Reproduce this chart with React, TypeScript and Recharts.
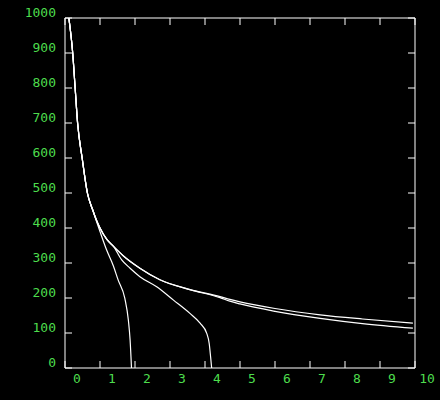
import { Line, LineChart, XAxis, YAxis } from "recharts";

const GREEN = "#4ddc4d";

const xTicks = [0, 1, 2, 3, 4, 5, 6, 7, 8, 9, 10];
const yTicks = [0, 100, 200, 300, 400, 500, 600, 700, 800, 900, 1000];

// shared head of the two long curves
const headX = [0.11, 0.22, 0.29, 0.36, 0.49, 0.64, 0.79, 0.9, 1.0, 1.19, 1.38, 1.67, 2.14, 2.71, 3.57];
const headY = [1000, 900, 800, 700, 600, 500, 452, 422, 400, 368, 348, 320, 285, 252, 224];

const tailAX = [4.43, 4.71, 5, 6, 7.29, 8.5, 9.94];
const tailAY = [204, 196, 189, 170, 152, 140, 128];
const tailBX = [4.43, 4.71, 5, 6, 7.29, 8.5, 9.94];
const tailBY = [201, 191, 183, 162, 142, 127, 114];

const curveCX = [0.79, 1.0, 1.19, 1.38, 1.52, 1.71, 1.81, 1.86, 1.9];
const curveCY = [452, 390, 337, 292, 251, 199, 137, 80, 0];
const curveDX = [1.38, 1.62, 1.86, 2.14, 2.62, 3.1, 3.57, 3.86, 4.05, 4.12, 4.16, 4.19];
const curveDY = [348, 309, 285, 261, 232, 194, 156, 128, 99, 70, 32, 0];

const pts = (xs: number[], ys: number[]) => xs.map((x, i) => ({ x, y: ys[i] }));
const dataA = [...pts(headX, headY), ...pts(tailAX, tailAY)];
const dataB = [...pts(headX, headY), ...pts(tailBX, tailBY)];
const dataC = [...pts(headX.slice(0, 6), headY.slice(0, 6)), ...pts(curveCX, curveCY)];
const dataD = [...pts(headX.slice(0, 10), headY.slice(0, 10)), ...pts(curveDX, curveDY)];

const font = { fontFamily: "DejaVu Sans Mono", fontSize: 13 };

const BottomTick = (p: any) => (
  <g>
    <line x1={p.x} y1={p.y} x2={p.x} y2={p.y - 7} stroke="#fff" />
    <text x={p.x + 12} y={p.y + 10} fill={GREEN} textAnchor="middle" dominantBaseline="central" {...font}>
      {p.payload.value}
    </text>
  </g>
);
const TopTick = (p: any) => <line x1={p.x} y1={p.y} x2={p.x} y2={p.y + 7} stroke="#fff" />;
const LeftTick = (p: any) => (
  <g>
    <line x1={p.x} y1={p.y} x2={p.x + 7} y2={p.y} stroke="#fff" />
    <text x={p.x - 9} y={p.y - 6} fill={GREEN} textAnchor="end" dominantBaseline="central" {...font}>
      {p.payload.value}
    </text>
  </g>
);
const RightTick = (p: any) => <line x1={p.x} y1={p.y} x2={p.x - 7} y2={p.y} stroke="#fff" />;

export default function App() {
  const series = [dataA, dataB, dataC];
  return (
    <div style={{ position: "fixed", left: 0, top: 0, width: 440, height: 400, background: "#000" }}>
      <LineChart width={440} height={400} margin={{ top: 17, right: 24, left: 0, bottom: 0 }}>
        <XAxis
          dataKey="x"
          type="number"
          domain={[0, 10]}
          ticks={xTicks}
          height={32}
          tickSize={0}
          tickMargin={0}
          tickLine={false}
          axisLine={{ stroke: "#fff" }}
          tick={<BottomTick />}
          interval={0}
          allowDataOverflow
        />
        <XAxis
          xAxisId="top"
          orientation="top"
          dataKey="x"
          type="number"
          domain={[0, 10]}
          ticks={xTicks}
          height={1}
          tickSize={0}
          tickMargin={0}
          tickLine={false}
          axisLine={{ stroke: "#fff" }}
          tick={<TopTick />}
          interval={0}
          allowDataOverflow
        />
        <YAxis
          type="number"
          domain={[0, 1000]}
          ticks={yTicks}
          width={65}
          tickSize={0}
          tickMargin={0}
          tickLine={false}
          axisLine={{ stroke: "#fff" }}
          tick={<LeftTick />}
          interval={0}
          allowDataOverflow
        />
        <YAxis
          yAxisId="right"
          orientation="right"
          type="number"
          domain={[0, 1000]}
          ticks={yTicks}
          width={1}
          tickSize={0}
          tickMargin={0}
          tickLine={false}
          axisLine={{ stroke: "#fff" }}
          tick={<RightTick />}
          interval={0}
          allowDataOverflow
        />
        {series.map((d, i) => (
          <Line
            key={i}
            data={d}
            dataKey="y"
            type="monotone"
            stroke="#fff"
            strokeWidth={1.2}
            dot={false}
            isAnimationActive={false}
          />
        ))}
        <Line
          xAxisId="top"
          yAxisId="right"
          data={dataD}
          dataKey="y"
          type="monotone"
          stroke="#fff"
          strokeWidth={1.2}
          dot={false}
          isAnimationActive={false}
        />
      </LineChart>
    </div>
  );
}
